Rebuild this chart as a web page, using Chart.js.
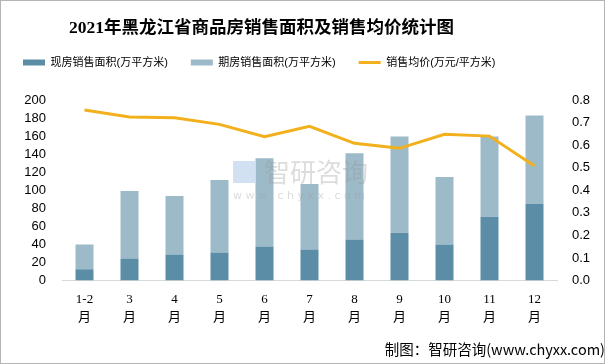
<!DOCTYPE html>
<html>
<head>
<meta charset="utf-8">
<script src="https://cdn.jsdelivr.net/npm/chart.js@4/dist/chart.umd.min.js"></script>
<style>
  html, body { margin: 0; padding: 0; background: #fff; }
  #wrap { width: 605px; height: 364px; position: relative; }
</style>
</head>
<body>
<div id="wrap"><canvas id="myChart" width="605" height="364"></canvas></div>
<script>
var months = [['1-2', '月'], ['3', '月'], ['4', '月'], ['5', '月'], ['6', '月'], ['7', '月'], ['8', '月'], ['9', '月'], ['10', '月'], ['11', '月'], ['12', '月']];
var spotArea = [12.5, 24.5, 28.9, 31.1, 37.7, 34.4, 45.4, 53.1, 39.9, 70.7, 85.0];   // 现房销售面积
var futureArea = [27.5, 74.8, 64.9, 80.3, 97.8, 72.6, 95.6, 106.6, 74.8, 89.0, 97.8]; // 期房销售面积
var avgPrice = [0.756, 0.725, 0.721, 0.692, 0.637, 0.683, 0.608, 0.586, 0.648, 0.640, 0.508]; // 销售均价
var leftTicks = [0, 20, 40, 60, 80, 100, 120, 140, 160, 180, 200];
var rightTicks = [0, 0.1, 0.2, 0.3, 0.4, 0.5, 0.6, 0.7, 0.8];

var cjk = '"Noto Sans CJK SC", "Liberation Sans", sans-serif';
var mixed = '"Liberation Sans", "Noto Sans CJK SC", sans-serif';

// white background, border, faint watermark, plus a little layout nudging
var decor = {
  id: 'decor',
  beforeUpdate: function (chart) {
    var lg = chart.legend;
    if (lg && !lg._padPatched) {
      var fit = lg.fit;
      lg.fit = function () {
        fit.call(this);
        this.height += 22; // gap between legend and plot
      };
      lg._padPatched = true;
    }
  },
  afterLayout: function (chart) {
    // title sits a bit left of centre in the original
    if (chart.titleBlock) chart.titleBlock.right -= 82;
  },
  beforeDraw: function (chart) {
    var c = chart.ctx;
    c.save();
    c.fillStyle = '#fff';
    c.fillRect(0, 0, chart.width, chart.height);
    c.restore();
  },
  afterDatasetsDraw: function (chart) {
    var c = chart.ctx;
    c.save();
    c.globalAlpha = 0.35;
    c.fillStyle = '#9a9a9a';
    c.font = '26px ' + cjk;
    c.textBaseline = 'middle';
    c.fillText('智研咨询', 264, 172);
    c.font = '11px "DejaVu Sans", sans-serif';
    c.fillText('w w w . c h y x x . c o m', 233, 196);
    c.fillStyle = '#7fa9d6';
    c.fillRect(233, 161, 22, 22);
    c.restore();
    c.save();
    c.strokeStyle = '#b4b4b4';
    c.lineWidth = 1;
    c.strokeRect(0.5, 0.5, chart.width - 1, chart.height - 1);
    c.restore();
  }
};

var ctx = document.getElementById('myChart').getContext('2d');

var myChart = new Chart(ctx, {
  type: 'bar',
  data: {
    labels: months,
    datasets: [
      {
        label: '现房销售面积(万平方米)',
        data: spotArea,
        backgroundColor: '#5b8ea6',
        pointStyle: 'rect',
        stack: 'area',
        yAxisID: 'y',
        order: 1
      },
      {
        label: '期房销售面积(万平方米)',
        data: futureArea,
        backgroundColor: '#9dbac9',
        pointStyle: 'rect',
        stack: 'area',
        yAxisID: 'y',
        order: 1
      },
      {
        type: 'line',
        label: '销售均价(万元/平方米)',
        data: avgPrice,
        borderColor: '#f2b01c',
        backgroundColor: '#f2b01c',
        borderWidth: 3,
        pointRadius: 0,
        pointStyle: 'line',
        tension: 0,
        yAxisID: 'y1',
        order: 0
      }
    ]
  },
  options: {
    responsive: false,
    animation: false,
    devicePixelRatio: 1,
    layout: { padding: 0 },
    datasets: { bar: { barPercentage: 0.4, categoryPercentage: 1 } },
    plugins: {
      tooltip: { enabled: false },
      title: {
        display: true,
        text: '2021年黑龙江省商品房销售面积及销售均价统计图',
        color: '#000',
        font: { family: '"Liberation Serif", "Noto Sans CJK SC", serif', size: 17.5, weight: 'bold' },
        padding: { top: 18, bottom: -5 }
      },
      legend: {
        display: true,
        position: 'top',
        align: 'start',
        labels: {
          usePointStyle: true,
          pointStyleWidth: 22,
          boxHeight: 6,
          padding: 23,
          color: '#000',
          font: { family: mixed, size: 11 },
          sort: function (a, b) { return a.datasetIndex - b.datasetIndex; }
        }
      },
      subtitle: {
        display: true,
        position: 'bottom',
        align: 'end',
        text: '制图：智研咨询(www.chyxx.com)',
        color: '#000',
        font: { family: cjk, size: 14.5 },
        padding: { top: 5, bottom: 6 }
      }
    },
    scales: {
      x: {
        stacked: true,
        grid: { display: false, drawTicks: false },
        border: { display: true, color: '#d9d9d9', width: 1 },
        ticks: {
          color: '#000',
          maxRotation: 0,
          autoSkip: false,
          padding: 10,
          font: { family: '"Liberation Serif", "Noto Sans CJK SC", serif', size: 13, lineHeight: 1.4 }
        },
        afterFit: function (scale) { scale.height = 55; }
      },
      y: {
        type: 'linear',
        position: 'left',
        stacked: true,
        min: 0,
        max: 200,
        grid: { display: false, drawTicks: false },
        border: { display: false },
        afterBuildTicks: function (scale) {
          scale.ticks = leftTicks.map(function (v) { return { value: v }; });
        },
        ticks: {
          color: '#000',
          autoSkip: false,
          padding: 16,
          font: { family: '"Liberation Sans", sans-serif', size: 13 }
        },
        afterFit: function (scale) { scale.width = 62; }
      },
      y1: {
        type: 'linear',
        position: 'right',
        min: 0,
        max: 0.8,
        grid: { display: false, drawTicks: false },
        border: { display: false },
        afterBuildTicks: function (scale) {
          scale.ticks = rightTicks.map(function (v) { return { value: v }; });
        },
        ticks: {
          color: '#000',
          autoSkip: false,
          padding: 15,
          font: { family: '"Liberation Sans", sans-serif', size: 13 },
          callback: function (v) { return Number(v).toFixed(1); }
        },
        afterFit: function (scale) { scale.width = 48; }
      }
    }
  },
  plugins: [decor]
});
</script>
</body>
</html>
